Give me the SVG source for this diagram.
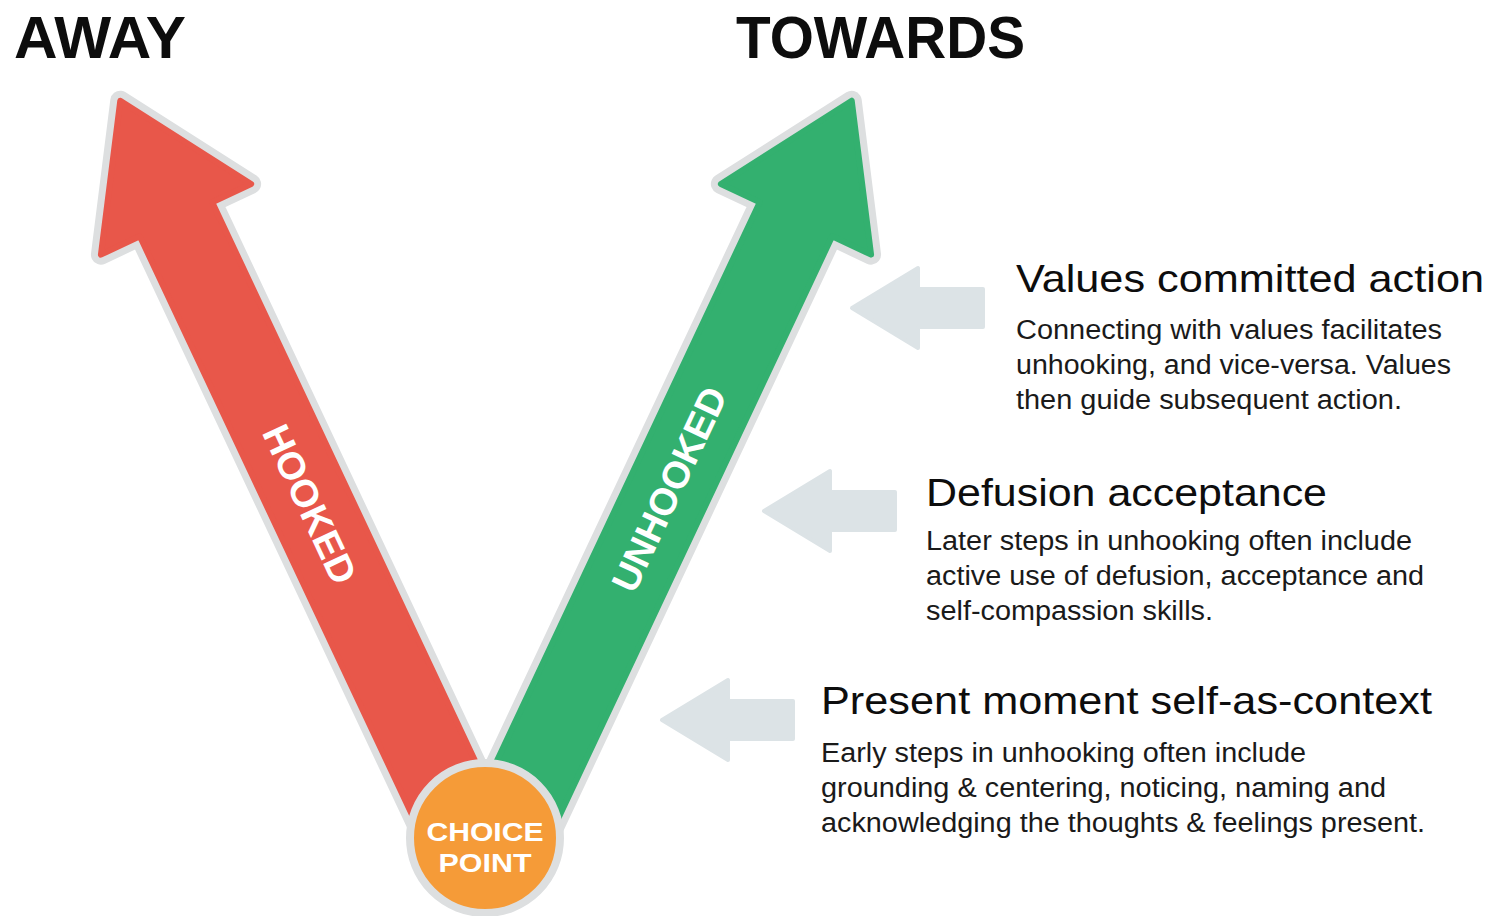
<svg xmlns="http://www.w3.org/2000/svg" xmlns:xlink="http://www.w3.org/1999/xlink" width="1489" height="916" viewBox="0 0 1489 916">
  <style>
    .hdr { font-family: "Liberation Sans", Arial, sans-serif; font-weight: bold; font-size: 60px; fill: #0d0d0d; }
    .title { font-family: "Liberation Sans", Arial, sans-serif; font-size: 39px; fill: #0d0d0d; }
    .body { font-family: "Liberation Sans", Arial, sans-serif; font-size: 27px; fill: #1a1a1a; }
    .arrowtxt { font-family: "Liberation Sans", Arial, sans-serif; font-weight: bold; font-size: 38px; fill: #ffffff; }
    .cptxt { font-family: "Liberation Sans", Arial, sans-serif; font-weight: bold; font-size: 26px; fill: #ffffff; }
    .outline { fill: #dddfe0; stroke: #dddfe0; stroke-width: 20; stroke-linejoin: round; }
    .red { fill: #e8574a; stroke: #e8574a; stroke-width: 6; stroke-linejoin: round; }
    .green { fill: #33b06f; stroke: #33b06f; stroke-width: 6; stroke-linejoin: round; }
    .pointer { fill: #dce3e6; stroke: #dce3e6; stroke-width: 4; stroke-linejoin: round; }
  </style>
  <defs>
    <path id="bigArrow" d="M -40,-20 L -40,-728 L -83,-728 L 0,-859 L 83,-728 L 40,-728 L 40,-20 Z"/>
    <path id="smallArrow" d="M 2,0 L 68,-40 L 68,-19 L 133,-19 L 133,19 L 68,19 L 68,40 Z"/>
  </defs>

  <rect width="1489" height="916" fill="#ffffff"/>

  <g id="headers">
    <text class="hdr" x="14" y="58" textLength="172" lengthAdjust="spacingAndGlyphs">AWAY</text>
    <text class="hdr" x="736" y="58" textLength="289" lengthAdjust="spacingAndGlyphs">TOWARDS</text>
  </g>

  <g id="hooked-arrow">
    <g transform="translate(486,878) rotate(-25.2)">
      <use xlink:href="#bigArrow" class="outline"/>
      <use xlink:href="#bigArrow" class="red"/>
    </g>
    <text class="arrowtxt" transform="translate(310,504) rotate(64.8)" x="0" y="13.5" text-anchor="middle" textLength="171" lengthAdjust="spacingAndGlyphs">HOOKED</text>
  </g>

  <g id="unhooked-arrow">
    <g transform="translate(486,878) rotate(25.2)">
      <use xlink:href="#bigArrow" class="outline"/>
      <use xlink:href="#bigArrow" class="green"/>
    </g>
    <text class="arrowtxt" transform="translate(669,489) rotate(-64.8)" x="0" y="13.5" text-anchor="middle" textLength="221" lengthAdjust="spacingAndGlyphs">UNHOOKED</text>
  </g>

  <g id="choice-point">
    <circle cx="485" cy="838" r="75" fill="#f59b38" stroke="#dddfe0" stroke-width="8"/>
    <text class="cptxt" x="485" y="841" text-anchor="middle" textLength="117" lengthAdjust="spacingAndGlyphs">CHOICE</text>
    <text class="cptxt" x="485" y="872" text-anchor="middle" textLength="93" lengthAdjust="spacingAndGlyphs">POINT</text>
  </g>

  <g id="connectors">
    <use xlink:href="#smallArrow" class="pointer" transform="translate(850,308)"/>
    <use xlink:href="#smallArrow" class="pointer" transform="translate(762,511)"/>
    <use xlink:href="#smallArrow" class="pointer" transform="translate(660,720)"/>
  </g>

  <g id="values-committed-action">
    <text class="title" x="1016" y="292" textLength="468" lengthAdjust="spacingAndGlyphs">Values committed action</text>
    <text class="body" x="1016" y="339" textLength="426" lengthAdjust="spacingAndGlyphs">Connecting with values facilitates</text>
    <text class="body" x="1016" y="374" textLength="435" lengthAdjust="spacingAndGlyphs">unhooking, and vice-versa. Values</text>
    <text class="body" x="1016" y="409" textLength="386" lengthAdjust="spacingAndGlyphs">then guide subsequent action.</text>
  </g>

  <g id="defusion-acceptance">
    <text class="title" x="926" y="506" textLength="401" lengthAdjust="spacingAndGlyphs">Defusion acceptance</text>
    <text class="body" x="926" y="550" textLength="486" lengthAdjust="spacingAndGlyphs">Later steps in unhooking often include</text>
    <text class="body" x="926" y="585" textLength="498" lengthAdjust="spacingAndGlyphs">active use of defusion, acceptance and</text>
    <text class="body" x="926" y="620" textLength="287" lengthAdjust="spacingAndGlyphs">self-compassion skills.</text>
  </g>

  <g id="present-moment">
    <text class="title" x="821" y="714" textLength="611" lengthAdjust="spacingAndGlyphs">Present moment self-as-context</text>
    <text class="body" x="821" y="762" textLength="485" lengthAdjust="spacingAndGlyphs">Early steps in unhooking often include</text>
    <text class="body" x="821" y="797" textLength="565" lengthAdjust="spacingAndGlyphs">grounding &amp; centering, noticing, naming and</text>
    <text class="body" x="821" y="832" textLength="604" lengthAdjust="spacingAndGlyphs">acknowledging the thoughts &amp; feelings present.</text>
  </g>
</svg>
